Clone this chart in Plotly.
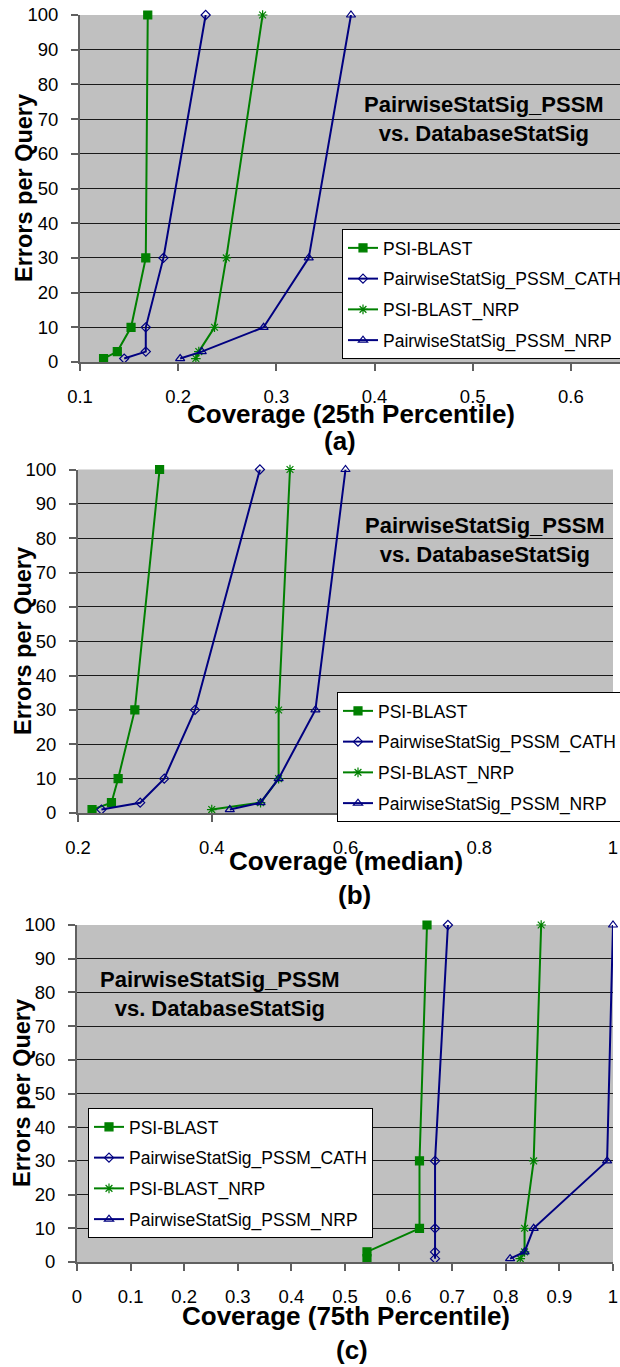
import plotly.graph_objects as go

# ---------------- data ----------------
errors = [1, 3, 10, 30, 100]
series_names = ["PSI-BLAST", "PairwiseStatSig_PSSM_CATH", "PSI-BLAST_NRP", "PairwiseStatSig_PSSM_NRP"]

# (a) Coverage 25th percentile
a_psi = [0.124, 0.138, 0.152, 0.167, 0.169]
a_cath = [0.145, 0.167, 0.167, 0.185, 0.228]
a_psi_nrp = [0.218, 0.221, 0.237, 0.249, 0.286]
a_nrp = [0.202, 0.224, 0.287, 0.333, 0.376]

# (b) Coverage median
b_psi = [0.221, 0.250, 0.260, 0.285, 0.322]
b_cath = [0.235, 0.293, 0.329, 0.375, 0.472]
b_psi_nrp = [0.400, 0.473, 0.500, 0.500, 0.517]
b_nrp = [0.427, 0.473, 0.500, 0.555, 0.600]

# (c) Coverage 75th percentile
c_psi = [0.541, 0.541, 0.639, 0.639, 0.653]
c_cath = [0.668, 0.668, 0.668, 0.668, 0.692]
c_psi_nrp = [0.827, 0.835, 0.835, 0.852, 0.866]
c_nrp = [0.808, 0.835, 0.852, 0.989, 1.000]

x_titles = ["Coverage (25th Percentile)", "Coverage (median)", "Coverage (75th Percentile)"]
panel_labels = ["(a)", "(b)", "(c)"]
y_title = "Errors per Query"
note_lines = ["PairwiseStatSig_PSSM", "vs. DatabaseStatSig"]

# ---------------- styling ----------------
W, H = 620, 1367
FONT = "Arial, Liberation Sans, sans-serif"
GREEN = "#008000"
NAVY = "#000080"
styles = [
    dict(color=GREEN, symbol="square", size=8),
    dict(color=NAVY, symbol="diamond-open", size=7),
    dict(color=GREEN, symbol="asterisk-open", size=8),
    dict(color=NAVY, symbol="triangle-up-open", size=8),
]

def px_x(v):
    return v / W

def px_y(v):
    return 1 - v / H

panels = [
    dict(data=[a_psi, a_cath, a_psi_nrp, a_nrp], xrange=[0.1, 0.65], dtick=0.1,
         xdom=(80, 620), ydom=(15, 362), legend=(342, 229),
         note=(484, 104), xt=(351, 414), lab=(340, 441), yt=(24, 188)),
    dict(data=[b_psi, b_cath, b_psi_nrp, b_nrp], xrange=[0.2, 1.0], dtick=0.2,
         xdom=(78, 613), ydom=(469.5, 813), legend=(337, 692),
         note=(485, 525), xt=(346, 861), lab=(354, 895), yt=(23, 641)),
    dict(data=[c_psi, c_cath, c_psi_nrp, c_nrp], xrange=[0.0, 1.0], dtick=0.1,
         xdom=(77, 613), ydom=(925, 1262), legend=(88, 1108),
         note=(220, 979), xt=(346, 1316), lab=(352, 1350), yt=(22, 1093)),
]

fig = go.Figure()
annotations = []
layout = dict(
    template="none",
    width=W, height=H, margin=dict(l=0, r=0, t=0, b=0, autoexpand=False),
    paper_bgcolor="white", plot_bgcolor="#C0C0C0",
    font=dict(family=FONT, color="black"),
)

for i, p in enumerate(panels):
    k = "" if i == 0 else str(i + 1)
    leg = "legend" + k
    for j, xs in enumerate(p["data"]):
        st = styles[j]
        fig.add_trace(go.Scatter(
            x=xs, y=errors, mode="lines+markers", name=series_names[j],
            line=dict(color=st["color"], width=2),
            marker=dict(symbol=st["symbol"], size=st["size"], color=st["color"],
                        line=dict(color=st["color"], width=1.2)),
            xaxis="x" + k, yaxis="y" + k, legend=leg, legendgroup=f"g{i}{j}",
            cliponaxis=False, showlegend=True,
        ))
    axis_common = dict(
        showline=True, linecolor="#606060", linewidth=2,
        ticks="outside", ticklen=7, tickcolor="#606060", tickwidth=1.5,
        tickfont=dict(family=FONT, size=18.5, color="black"),
        zeroline=False, automargin=False,
    )
    layout["xaxis" + k] = dict(
        axis_common, domain=[px_x(p["xdom"][0]), px_x(p["xdom"][1])],
        range=p["xrange"], dtick=p["dtick"], tick0=0, showgrid=False,
        anchor="y" + k, ticklabelstandoff=10,
    )
    layout["yaxis" + k] = dict(
        axis_common, domain=[px_y(p["ydom"][1]), px_y(p["ydom"][0])],
        range=[0, 100], dtick=10, showgrid=True, gridcolor="#1a1a1a", gridwidth=1.3,
        anchor="x" + k, ticklabelstandoff=9,
    )
    layout[leg] = dict(
        x=px_x(p["legend"][0]), y=px_y(p["legend"][1]), xanchor="left", yanchor="top",
        xref="paper", yref="paper",
        bgcolor="white", bordercolor="black", borderwidth=1,
        font=dict(family=FONT, size=17.5, color="black"),
        tracegroupgap=5, traceorder="grouped", itemwidth=30,
    )
    annotations.append(dict(
        x=px_x(p["note"][0]), y=px_y(p["note"][1] - 14), xref="paper", yref="paper",
        text=note_lines[0] + "<br>" + note_lines[1], showarrow=False,
        font=dict(family=FONT, size=22, color="black", weight="bold"),
        xanchor="center", yanchor="top", align="center",
    ))
    annotations.append(dict(
        x=px_x(p["xt"][0]), y=px_y(p["xt"][1]), xref="paper", yref="paper",
        text=x_titles[i], showarrow=False,
        font=dict(family=FONT, size=26, color="black", weight="bold"),
        xanchor="center", yanchor="middle",
    ))
    annotations.append(dict(
        x=px_x(p["lab"][0]), y=px_y(p["lab"][1]), xref="paper", yref="paper",
        text=panel_labels[i], showarrow=False,
        font=dict(family=FONT, size=26, color="black", weight="bold"),
        xanchor="center", yanchor="middle",
    ))
    annotations.append(dict(
        x=px_x(p["yt"][0]), y=px_y(p["yt"][1]), xref="paper", yref="paper",
        text=y_title, showarrow=False, textangle=-90,
        font=dict(family=FONT, size=23.5, color="black", weight="bold"),
        xanchor="center", yanchor="middle",
    ))

layout["annotations"] = annotations
fig.update_layout(**layout)
fig.write_html(
    "out.html",
    config={"displayModeBar": False},
    post_script="document.body.style.margin='0';document.body.style.padding='0';",
)
